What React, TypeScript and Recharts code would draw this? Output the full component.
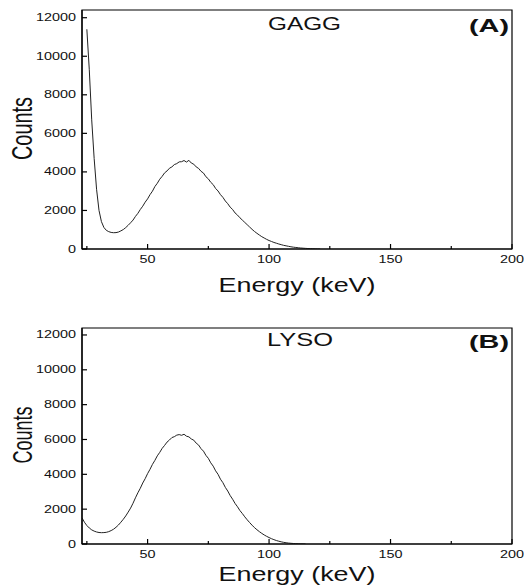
import { LineChart, Line, XAxis, YAxis, ReferenceArea } from "recharts";

// GAGG spectrum (panel A)
const gaggEnergy = [
  25, 26, 27, 28, 29, 30, 31, 32, 33, 34, 35, 36, 37, 38, 39, 40, 41, 42, 43, 44,
  45, 46, 47, 48, 49, 50, 51, 52, 53, 54, 55, 56, 57, 58, 59, 60, 61, 62, 63, 64,
  65, 66, 67, 68, 69, 70, 71, 72, 73, 74, 75, 76, 77, 78, 79, 80, 81, 82, 83, 84,
  85, 86, 87, 88, 89, 90, 91, 92, 93, 94, 95, 96, 97, 98, 99, 100, 101, 102, 103, 104,
  105, 106, 107, 108, 109, 110, 111, 112, 113, 114, 115, 116, 117, 118, 119, 120, 121,
];
const gaggCounts = [
  11400, 9300, 6700, 4700, 3100, 2000, 1420, 1120, 970, 900, 860, 845, 850, 880, 940, 1010, 1110, 1230, 1360, 1500,
  1690, 1850, 2050, 2220, 2430, 2600, 2820, 3000, 3240, 3410, 3620, 3770, 3950, 4050, 4190, 4260, 4380, 4430, 4520, 4530,
  4590, 4510, 4600, 4460, 4400, 4260, 4180, 4030, 3940, 3750, 3640, 3460, 3340, 3140, 3010, 2820, 2680, 2490, 2350, 2170,
  2050, 1870, 1760, 1620, 1500, 1380, 1260, 1140, 1020, 910, 815, 725, 640, 570, 500, 440, 390, 340, 300, 260,
  225, 190, 165, 140, 115, 95, 80, 65, 52, 42, 33, 25, 18, 12, 7, 3, 0,
];

// LYSO spectrum (panel B)
const lysoEnergy = [
  23, 24, 25, 26, 27, 28, 29, 30, 31, 32, 33, 34, 35, 36, 37, 38, 39, 40, 41, 42,
  43, 44, 45, 46, 47, 48, 49, 50, 51, 52, 53, 54, 55, 56, 57, 58, 59, 60, 61, 62,
  63, 64, 65, 66, 67, 68, 69, 70, 71, 72, 73, 74, 75, 76, 77, 78, 79, 80, 81, 82,
  83, 84, 85, 86, 87, 88, 89, 90, 91, 92, 93, 94, 95, 96, 97, 98, 99, 100, 101, 102,
  103, 104, 105, 106, 107, 108, 109, 110, 111, 112, 113, 114, 115,
];
const lysoCounts = [
  1500, 1250, 1060, 920, 810, 740, 690, 660, 650, 655, 670, 710, 770, 850, 960, 1090, 1250, 1420, 1610, 1830,
  2060, 2340, 2650, 2940, 3200, 3500, 3750, 4040, 4290, 4570, 4800, 5060, 5260, 5490, 5660, 5850, 5970, 6110, 6160, 6250,
  6280, 6240, 6300, 6190, 6150, 6030, 5960, 5790, 5680, 5470, 5330, 5090, 4920, 4660, 4470, 4200, 4000, 3720, 3520, 3250,
  3040, 2780, 2570, 2330, 2140, 1920, 1750, 1560, 1390, 1230, 1080, 940, 820, 710, 610, 520, 440, 370, 305, 250,
  200, 160, 125, 95, 72, 54, 40, 29, 20, 13, 7, 3, 0,
];

const xTicks = [25, 50, 75, 100, 125, 150, 175, 200];
const yTicks = [0, 2000, 4000, 6000, 8000, 10000, 12000];
const xDomain = [23, 200];
const yDomain = [0, 12400];

const FONT = "'Liberation Sans', Arial, sans-serif";

const toRows = (xs: number[], ys: number[]) => xs.map((e, i) => ({ energy: e, counts: ys[i] }));
const gaggData = toRows(gaggEnergy, gaggCounts);
const lysoData = toRows(lysoEnergy, lysoCounts);

const XTick = (props: any) => {
  const { x, y, payload } = props;
  const v = payload.value;
  const major = v % 50 === 0;
  return (
    <g>
      <line x1={x} y1={y} x2={x} y2={y - (major ? 5 : 3)} stroke="#000" strokeWidth={1.2} />
      {major && (
        <text
          x={x}
          y={y + 14}
          textAnchor="middle"
          fontSize={10}
          fontFamily={FONT}
          fill="#111"
          textLength={String(v).length * 8}
          lengthAdjust="spacingAndGlyphs"
        >
          {v}
        </text>
      )}
    </g>
  );
};

const YTick = (props: any) => {
  const { x, y, payload } = props;
  const v = payload.value;
  return (
    <g>
      <line x1={x} y1={y} x2={x + 5} y2={y} stroke="#000" strokeWidth={1.2} />
      <text
        x={x - 6}
        y={y + 3.5}
        textAnchor="end"
        fontSize={10}
        fontFamily={FONT}
        fill="#111"
        textLength={String(v).length * 8}
        lengthAdjust="spacingAndGlyphs"
      >
        {v}
      </text>
    </g>
  );
};

function Panel({ data, height, top, bottom }: any) {
  return (
    <LineChart width={524} height={height} data={data} margin={{ top, right: 12, left: 0, bottom: 0 }}>
      <XAxis
        dataKey="energy"
        type="number"
        domain={xDomain}
        ticks={xTicks}
        interval={0}
        allowDataOverflow
        height={bottom}
        tickSize={0}
        tickMargin={0}
        tickLine={false}
        tick={<XTick />}
        axisLine={{ stroke: "#000", strokeWidth: 1.2 }}
      />
      <YAxis
        type="number"
        domain={yDomain}
        ticks={yTicks}
        interval={0}
        allowDataOverflow
        width={82}
        tickSize={0}
        tickMargin={0}
        tickLine={false}
        tick={<YTick />}
        axisLine={{ stroke: "#000", strokeWidth: 1.2 }}
      />
      {/* plot frame */}
      <ReferenceArea
        x1={xDomain[0]}
        x2={xDomain[1]}
        y1={yDomain[0]}
        y2={yDomain[1]}
        fill="none"
        fillOpacity={0}
        stroke="#000"
        strokeWidth={1.2}
        strokeOpacity={1}
      />
      <Line
        dataKey="counts"
        type="linear"
        stroke="#222"
        strokeWidth={1}
        dot={false}
        isAnimationActive={false}
      />
    </LineChart>
  );
}

export default function App() {
  return (
    <div style={{ position: "absolute", left: 0, top: 0, width: 524, height: 585, background: "#fff" }}>
      <div style={{ position: "absolute", left: 0, top: 0 }}>
        <Panel data={gaggData} height={300} top={10} bottom={51} />
      </div>
      <div style={{ position: "absolute", left: 0, top: 300 }}>
        <Panel data={lysoData} height={285} top={28} bottom={41} />
      </div>
      <svg
        width={524}
        height={585}
        style={{ position: "absolute", left: 0, top: 0, pointerEvents: "none" }}
        fontFamily={FONT}
      >
        <text x={268} y={30} fontSize={19} textLength={73} lengthAdjust="spacingAndGlyphs" fill="#111">GAGG</text>
        <text x={469} y={32} fontSize={18} fontWeight="bold" textLength={40} lengthAdjust="spacingAndGlyphs" fill="#111">(A)</text>
        <text x={267} y={346} fontSize={18} textLength={66} lengthAdjust="spacingAndGlyphs" fill="#111">LYSO</text>
        <text x={469} y={348} fontSize={18} fontWeight="bold" textLength={40} lengthAdjust="spacingAndGlyphs" fill="#111">(B)</text>
        <text x={297} y={292} fontSize={21} textAnchor="middle" textLength={157} lengthAdjust="spacingAndGlyphs" fill="#111">Energy (keV)</text>
        <text x={297} y={581} fontSize={20} textAnchor="middle" textLength={157} lengthAdjust="spacingAndGlyphs" fill="#111">Energy (keV)</text>
        <text transform="translate(32,128.5) rotate(-90)" fontSize={29} textAnchor="middle" textLength={63} lengthAdjust="spacingAndGlyphs" fill="#111">Counts</text>
        <text transform="translate(32,435) rotate(-90)" fontSize={28} textAnchor="middle" textLength={57} lengthAdjust="spacingAndGlyphs" fill="#111">Counts</text>
      </svg>
    </div>
  );
}
